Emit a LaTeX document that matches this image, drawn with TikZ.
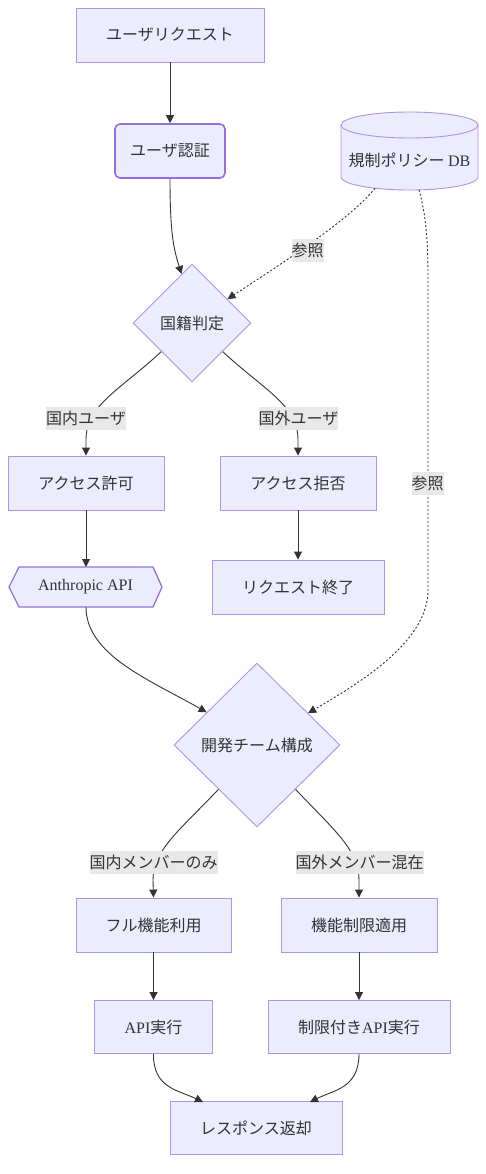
\documentclass[tikz,border=0pt]{standalone}
\usepackage{fontspec}
\setmainfont{Liberation Serif}
\newfontfamily\jpfont{Noto Sans CJK JP}
\usetikzlibrary{arrows.meta,shapes.geometric}
\definecolor{nfill}{HTML}{ECECFF}
\definecolor{nstroke}{HTML}{9370DB}
\colorlet{lstroke}{nstroke!75!white}
\definecolor{ink}{HTML}{333333}
\definecolor{lblbg}{HTML}{E8E8E8}
\newcommand\fsz{\fontsize{16}{19}\selectfont}
\tikzset{
  box/.style={draw=lstroke, fill=nfill, line width=0.9pt, minimum height=54pt, inner sep=0pt, text=ink, font=\jpfont\fsz},
  rbox/.style={box, draw=nstroke, rounded corners=5pt, line width=1.6pt},
  dia/.style={draw=lstroke, fill=nfill, line width=0.9pt, diamond, inner sep=0pt, text=ink, font=\jpfont\fsz},
  plain/.style={inner sep=0pt, text=ink, font=\jpfont\fsz},
  elabel/.style={fill=lblbg, inner xsep=0pt, minimum height=23pt, inner ysep=0pt, text=ink, font=\jpfont\fsz},
  edge/.style={draw=ink, line width=0.9pt, -{Triangle[length=8pt,width=8pt]}},
  dedge/.style={edge, dash pattern=on 2pt off 2pt},
}
\begin{document}
\begin{tikzpicture}[x=1pt,y=1pt]
\useasboundingbox (0,0) rectangle (486,-1174);

% nodes
\node[box, minimum width=188pt] (req) at (170,-35) {ユーザリクエスト};
\node[rbox, minimum width=110pt] (auth) at (170,-151) {ユーザ認証};

% database cylinder
\filldraw[draw=lstroke, fill=nfill, line width=0.9pt]
  (341,-125) -- (341,-177) arc[start angle=180, end angle=360, x radius=68.5pt, y radius=13pt]
  -- (478,-125) arc[start angle=0, end angle=180, x radius=68.5pt, y radius=13pt] -- cycle;
\draw[draw=lstroke, line width=0.9pt] (341,-125) arc[start angle=180, end angle=360, x radius=68.5pt, y radius=13pt];
\node[plain] (db) at (409.5,-160) {規制ポリシー {\rmfamily DB}};
\coordinate (dbl) at (375,-188.2);
\coordinate (dbr) at (419,-189.8);

\node[dia, minimum width=118pt, minimum height=118pt] (nat) at (192,-323) {国籍判定};

\node[box, minimum width=156pt] (allow) at (86,-483) {アクセス許可};
\node[box, minimum width=156pt] (deny) at (298,-483) {アクセス拒否};

% hexagon Anthropic API
\filldraw[draw=nstroke, fill=nfill, line width=1.3pt]
  (9,-587) -- (19,-567) -- (153,-567) -- (162,-587) -- (153,-607) -- (19,-607) -- cycle;
\node[plain, minimum width=153pt, minimum height=40pt] (api) at (85.5,-587) {{\rmfamily Anthropic API}};

\node[box, minimum width=172pt] (end) at (298,-587) {リクエスト終了};

\node[dia, minimum width=166pt, minimum height=164pt] (dev) at (257,-745) {開発チーム構成};

\node[box, minimum width=155pt] (full) at (153.5,-925) {フル機能利用};
\node[box, minimum width=156pt] (limit) at (359,-925) {機能制限適用};
\node[box, minimum width=118pt, minimum height=53pt] (exec) at (153.5,-1027) {{\rmfamily API}実行};
\node[box, minimum width=182pt, minimum height=53pt] (lexec) at (359,-1027) {制限付き{\rmfamily API}実行};
\node[box, minimum width=172pt, minimum height=53pt] (resp) at (256,-1128) {レスポンス返却};

% edges
\draw[edge] (req.south) -- (auth.north);
\draw[edge] (auth.south) .. controls (170,-235) and (174,-250) .. (nat.102);
\draw[dedge] (dbl) .. controls (350,-220) and (275,-268) .. (nat.34);
\draw[dedge] (dbr) .. controls (426,-215) and (428,-240) .. (428,-280) -- (428,-590) .. controls (428,-640) and (365,-680) .. (dev.32.4);

\draw[edge] (nat.223) .. controls (120,-390) and (86,-405) .. (86,-440) -- (allow.north);
\draw[edge] (nat.317) .. controls (264,-390) and (298,-405) .. (298,-440) -- (deny.north);
\draw[edge] (allow.south) -- (86,-567);
\draw[edge] (deny.south) -- (end.north);
\draw[edge] (86,-607) .. controls (86,-655) and (150,-680) .. (dev.147.6);

\draw[edge] (dev.229) .. controls (180,-830) and (153,-850) .. (153,-880) -- (full.north);
\draw[edge] (dev.311) .. controls (334,-830) and (359,-850) .. (359,-880) -- (limit.north);
\draw[edge] (full.south) -- (exec.north);
\draw[edge] (limit.south) -- (lexec.north);
\draw[edge] (exec.south) .. controls (153,-1088) and (178,-1090) .. (203,-1102);
\draw[edge] (lexec.south) .. controls (359,-1088) and (334,-1090) .. (310,-1102);

% edge labels
\node[elabel] (l1) at (307.5,-250.5) {参照};
\node[elabel] (l2) at (427.5,-483) {参照};
\node[elabel] (l3) at (86,-418) {国内ユーザ};
\node[elabel] (l4) at (298.5,-418) {国外ユーザ};
\node[elabel] (l5) at (153.5,-862) {国内メンバーのみ};
\node[elabel] (l6) at (359.5,-862) {国外メンバー混在};
\end{tikzpicture}
\end{document}
